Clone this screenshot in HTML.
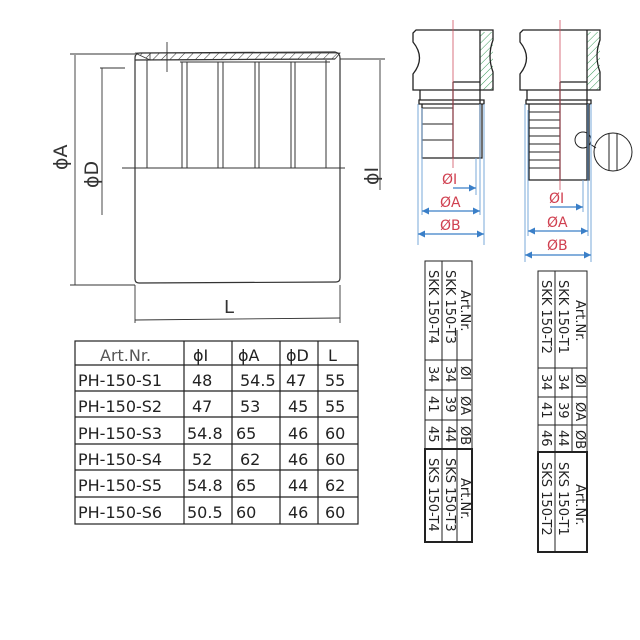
<!DOCTYPE html>
<html><head><meta charset="utf-8"><style>
html,body{margin:0;padding:0;background:#fff}
svg{display:block}
text{font-family:"DejaVu Sans","Liberation Sans",sans-serif}
</style></head><body>
<svg width="640" height="640" viewBox="0 0 640 640" xmlns="http://www.w3.org/2000/svg">
<defs>
<pattern id="h" width="6" height="6" patternUnits="userSpaceOnUse" patternTransform="rotate(45)"><line x1="0" y1="0" x2="0" y2="6" stroke="#333" stroke-width="1"/></pattern>
<pattern id="g" width="5" height="5" patternUnits="userSpaceOnUse" patternTransform="rotate(45)"><line x1="0" y1="0" x2="0" y2="5" stroke="#3a9a5a" stroke-width="1"/></pattern>
<marker id="ar" markerWidth="6" markerHeight="6" refX="6" refY="3" orient="auto"><path d="M0,0 L6,3 L0,6z" fill="#3a7fc8"/></marker>
<marker id="al" markerWidth="6" markerHeight="6" refX="0" refY="3" orient="auto"><path d="M6,0 L0,3 L6,6z" fill="#3a7fc8"/></marker>
</defs>
<!-- sleeve drawing -->
<g stroke="#333" fill="none" stroke-width="1.2">
<path d="M135,58 Q135,53 140,53 L335,52 Q340,53 340,58 L340,278 Q340,282 336,282 L139,283 Q135,283 135,279 Z"/>
<path d="M135,60 L335,59" />
<path d="M135,53 L150,53 L150,60 Z M150,53 L340,53 L335,59 L150,60Z" fill="url(#h)" stroke-width="0.8"/>
<line x1="122" y1="168" x2="345" y2="168" stroke-width="1"/>
<g stroke-width="1">
<line x1="147" y1="60" x2="147" y2="168"/>
<line x1="182" y1="62" x2="182" y2="168"/><line x1="187" y1="62" x2="187" y2="168"/>
<line x1="218" y1="62" x2="218" y2="168"/><line x1="223" y1="62" x2="223" y2="168"/>
<line x1="255" y1="62" x2="255" y2="168"/><line x1="259" y1="62" x2="259" y2="168"/>
<line x1="291" y1="62" x2="291" y2="168"/><line x1="295" y1="62" x2="295" y2="168"/>
<line x1="326" y1="60" x2="326" y2="168"/>
<line x1="180" y1="62" x2="330" y2="62"/>
</g>
<g stroke-width="0.9">
<line x1="75" y1="55" x2="75" y2="285"/><line x1="70" y1="54" x2="135" y2="54"/><line x1="70" y1="285" x2="135" y2="285"/>
<line x1="102" y1="68" x2="102" y2="215"/><line x1="100" y1="68" x2="125" y2="68"/>
<line x1="380" y1="60" x2="380" y2="190"/><line x1="340" y1="59" x2="385" y2="59"/>
<line x1="135" y1="285" x2="135" y2="323"/><line x1="340" y1="285" x2="340" y2="323"/>
<line x1="135" y1="320" x2="340" y2="318"/>
<line x1="167" y1="42" x2="167" y2="72"/>
</g>
</g>
<g fill="#333" font-size="19">
<text transform="translate(67,170) rotate(-90)">ϕA</text>
<text transform="translate(98,188) rotate(-90)">ϕD</text>
<text transform="translate(378,185) rotate(-90)">ϕI</text>
<text x="224" y="313" font-size="18">L</text>
</g>
<!-- bottom-left table -->
<g stroke="#222" stroke-width="1.2" fill="none">
<rect x="75" y="341" width="283" height="183"/>
<line x1="75" y1="365" x2="358" y2="365"/><line x1="75" y1="391" x2="358" y2="391"/>
<line x1="75" y1="417" x2="358" y2="417"/><line x1="75" y1="444" x2="358" y2="444"/>
<line x1="75" y1="470" x2="358" y2="470"/><line x1="75" y1="497" x2="358" y2="497"/>
<line x1="184" y1="341" x2="184" y2="524"/><line x1="232" y1="341" x2="232" y2="524"/>
<line x1="280" y1="341" x2="280" y2="524"/><line x1="318" y1="341" x2="318" y2="524"/>
</g>
<g fill="#222" font-size="16">
<text x="100" y="361" fill="#555">Art.Nr.</text><text x="193" y="361">ϕI</text><text x="238" y="361">ϕA</text><text x="286" y="361">ϕD</text><text x="328" y="361">L</text>
<text x="78" y="386">PH-150-S1</text><text x="192" y="386">48</text><text x="240" y="386">54.5</text><text x="286" y="386">47</text><text x="325" y="386">55</text>
<text x="78" y="412">PH-150-S2</text><text x="192" y="412">47</text><text x="240" y="412">53</text><text x="288" y="412">45</text><text x="325" y="412">55</text>
<text x="78" y="439">PH-150-S3</text><text x="187" y="439">54.8</text><text x="236" y="439">65</text><text x="288" y="439">46</text><text x="325" y="439">60</text>
<text x="78" y="465">PH-150-S4</text><text x="192" y="465">52</text><text x="240" y="465">62</text><text x="288" y="465">46</text><text x="325" y="465">60</text>
<text x="78" y="491">PH-150-S5</text><text x="187" y="491">54.8</text><text x="236" y="491">65</text><text x="288" y="491">44</text><text x="325" y="491">62</text>
<text x="78" y="518">PH-150-S6</text><text x="187" y="518">50.5</text><text x="236" y="518">60</text><text x="288" y="518">46</text><text x="325" y="518">60</text>
</g>
<!-- fitting 1 -->
<g stroke="#222" stroke-width="1.3" fill="none">
<rect x="480" y="32" width="13" height="58" fill="url(#g)" stroke="none"/>
<path d="M416,30 L493,30 L493,40 Q487,56 493,72 L493,90 L413,90 L413,74 Q426,58 413,42 L413,33 Z"/>
<line x1="480" y1="30" x2="480" y2="158"/>
<path d="M453,82 L480,82 M453,82 L453,158"/>
<path d="M420,90 L420,100 M419,100 L484,100 L484,104 L419,104 Z M422,104 L422,158 L482,158 L482,104"/>
<line x1="422" y1="108" x2="453" y2="108" stroke-width="1"/><line x1="422" y1="124" x2="453" y2="124" stroke-width="1"/><line x1="422" y1="140" x2="453" y2="140" stroke-width="1"/>
</g>
<line x1="453" y1="20" x2="453" y2="168" stroke="#d05060" stroke-width="0.8"/>
<g stroke="#7aa8d8" stroke-width="1">
<line x1="422" y1="108" x2="422" y2="215"/><line x1="418" y1="104" x2="418" y2="245"/>
<line x1="476" y1="158" x2="476" y2="195"/><line x1="480" y1="104" x2="480" y2="215"/><line x1="484" y1="104" x2="484" y2="245"/>
</g>
<g stroke="#3a7fc8" stroke-width="1.2">
<line x1="453" y1="188" x2="476" y2="188" marker-end="url(#ar)"/>
<line x1="422" y1="211" x2="480" y2="211" marker-end="url(#ar)" marker-start="url(#al)"/>
<line x1="418" y1="234" x2="484" y2="234" marker-end="url(#ar)" marker-start="url(#al)"/>
</g>
<g fill="#d04050" font-size="14"><text x="442" y="184">ØI</text><text x="440" y="207">ØA</text><text x="440" y="230">ØB</text></g>
<!-- fitting 2 -->
<g stroke="#222" stroke-width="1.3" fill="none">
<rect x="587" y="32" width="13" height="58" fill="url(#g)" stroke="none"/>
<path d="M523,30 L600,30 L600,40 Q594,56 600,72 L600,90 L520,90 L520,74 Q533,58 520,42 L520,33 Z"/>
<line x1="587" y1="30" x2="587" y2="180"/>
<path d="M560,82 L587,82 M560,82 L560,180"/>
<path d="M527,90 L527,100 M526,100 L591,100 L591,104 L526,104 Z M529,104 L529,180 L589,180 L589,104"/>
<g stroke-width="1">
<line x1="529" y1="112" x2="560" y2="112"/><line x1="529" y1="120" x2="560" y2="120"/><line x1="529" y1="128" x2="560" y2="128"/><line x1="529" y1="136" x2="560" y2="136"/><line x1="529" y1="144" x2="560" y2="144"/><line x1="529" y1="152" x2="560" y2="152"/><line x1="529" y1="160" x2="560" y2="160"/><line x1="529" y1="168" x2="560" y2="168"/>
</g>
<circle cx="583" cy="140" r="8" stroke-width="1"/>
<circle cx="613" cy="152" r="19" stroke-width="1"/>
<line x1="590" y1="144" x2="596" y2="148" stroke-width="1"/>
<line x1="609" y1="134" x2="609" y2="170" stroke-width="1"/><line x1="617" y1="134" x2="617" y2="170" stroke-width="1"/>
</g>
<line x1="560" y1="20" x2="560" y2="190" stroke="#d05060" stroke-width="0.8"/>
<g stroke="#7aa8d8" stroke-width="1">
<line x1="528" y1="110" x2="528" y2="236"/><line x1="525" y1="104" x2="525" y2="262"/>
<line x1="583" y1="180" x2="583" y2="212"/><line x1="588" y1="104" x2="588" y2="236"/><line x1="591" y1="104" x2="591" y2="262"/>
</g>
<g stroke="#3a7fc8" stroke-width="1.2">
<line x1="550" y1="207" x2="583" y2="207" marker-end="url(#ar)"/>
<line x1="528" y1="231" x2="588" y2="231" marker-end="url(#ar)" marker-start="url(#al)"/>
<line x1="525" y1="255" x2="591" y2="255" marker-end="url(#ar)" marker-start="url(#al)"/>
</g>
<g fill="#d04050" font-size="14"><text x="549" y="203">ØI</text><text x="547" y="227">ØA</text><text x="547" y="250">ØB</text></g>
<!-- rotated table 1 -->
<g stroke="#222" stroke-width="1" fill="none">
<rect x="425" y="261" width="47" height="281"/>
<line x1="425" y1="360" x2="472" y2="360"/><line x1="425" y1="390" x2="472" y2="390"/><line x1="425" y1="420" x2="472" y2="420"/>
<rect x="425" y="449" width="47" height="93" stroke-width="2"/>
<line x1="442" y1="261" x2="442" y2="542"/><line x1="457" y1="330" x2="457" y2="542"/><line x1="457" y1="360" x2="457" y2="449"/>
</g>
<g fill="#222" font-size="13">
<text transform="translate(461,290) rotate(90)">Art.Nr.</text>
<text transform="translate(446,270) rotate(90)">SKK 150-T3</text>
<text transform="translate(429,270) rotate(90)">SKK 150-T4</text>
<text transform="translate(461,366) rotate(90)">ØI</text><text transform="translate(446,366) rotate(90)">34</text><text transform="translate(429,366) rotate(90)">34</text>
<text transform="translate(461,396) rotate(90)">ØA</text><text transform="translate(446,396) rotate(90)">39</text><text transform="translate(429,396) rotate(90)">41</text>
<text transform="translate(461,426) rotate(90)">ØB</text><text transform="translate(446,426) rotate(90)">44</text><text transform="translate(429,426) rotate(90)">45</text>
<text transform="translate(461,478) rotate(90)">Art.Nr.</text>
<text transform="translate(446,458) rotate(90)">SKS 150-T3</text>
<text transform="translate(429,458) rotate(90)">SKS 150-T4</text>
</g>
<!-- rotated table 2 -->
<g stroke="#222" stroke-width="1" fill="none">
<rect x="538" y="271" width="49" height="281"/>
<line x1="538" y1="368" x2="587" y2="368"/><line x1="538" y1="397" x2="587" y2="397"/><line x1="538" y1="425" x2="587" y2="425"/>
<rect x="538" y="452" width="49" height="100" stroke-width="2"/>
<line x1="555" y1="271" x2="555" y2="552"/><line x1="572" y1="368" x2="572" y2="452"/>
</g>
<g fill="#222" font-size="13">
<text transform="translate(576,300) rotate(90)">Art.Nr.</text>
<text transform="translate(559,280) rotate(90)">SKK 150-T1</text>
<text transform="translate(542,280) rotate(90)">SKK 150-T2</text>
<text transform="translate(576,374) rotate(90)">ØI</text><text transform="translate(559,374) rotate(90)">34</text><text transform="translate(542,374) rotate(90)">34</text>
<text transform="translate(576,402) rotate(90)">ØA</text><text transform="translate(559,402) rotate(90)">39</text><text transform="translate(542,402) rotate(90)">41</text>
<text transform="translate(576,430) rotate(90)">ØB</text><text transform="translate(559,430) rotate(90)">44</text><text transform="translate(542,430) rotate(90)">46</text>
<text transform="translate(576,484) rotate(90)">Art.Nr.</text>
<text transform="translate(559,462) rotate(90)">SKS 150-T1</text>
<text transform="translate(542,462) rotate(90)">SKS 150-T2</text>
</g>
</svg>
</body></html>
